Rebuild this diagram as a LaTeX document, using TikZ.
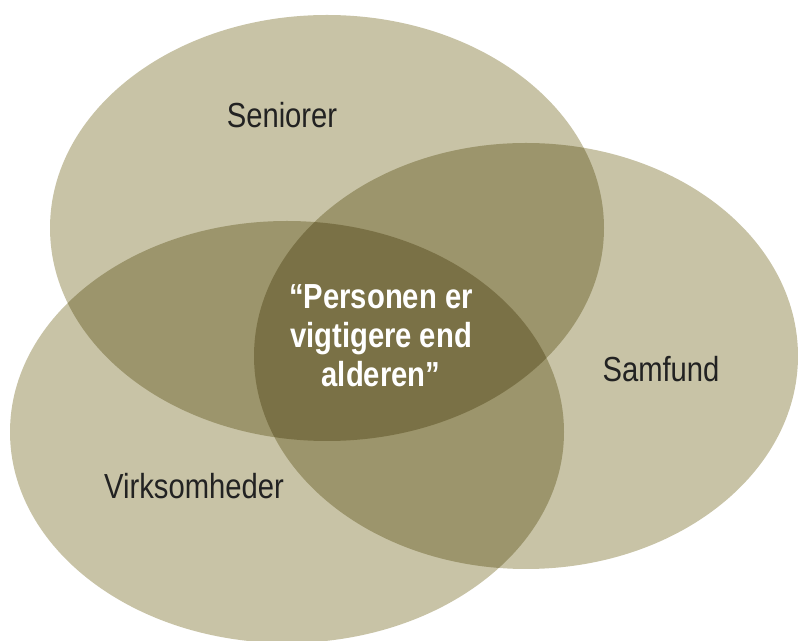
\documentclass[tikz,border=0pt]{standalone}
\usepackage{fontspec}
\setmainfont{Liberation Sans}[FakeStretch=0.84]
\usepackage{tikz}
\definecolor{sand}{HTML}{C8C3A6}
\definecolor{ink}{HTML}{222222}

\begin{document}
\begin{tikzpicture}[x=0.02cm, y=-0.02cm,
	circlefill/.style={fill=sand, blend mode=multiply},
	lbl/.style={text=ink, anchor=base, font=\fontsize{19.8}{22}\selectfont},
	core/.style={text=white, align=center, font=\fontsize{19.8}{22.1}\selectfont\bfseries}]
			%%%%% START %%%%%
			
			\useasboundingbox (0, 0) rectangle (798, 641);
			\clip (0, 0) rectangle (798, 641);
			
			% the three groups
			\fill[circlefill] (327, 228) ellipse [x radius=277, y radius=213];
			\fill[circlefill] (526, 356) ellipse [x radius=272, y radius=213];
			\fill[circlefill] (287, 432) ellipse [x radius=277, y radius=211];
			
			\node[lbl] (seniorer) at (282, 128) {Seniorer};
			\node[lbl] (samfund) at (661, 382) {Samfund};
			\node[lbl] (virksomheder) at (194, 499) {Virksomheder};
			
			% the common ground
			\node[core] (kerne) at (381, 336) {“Personen er\\vigtigere end\\alderen”};
			
			%%%%% END %%%%%
\end{tikzpicture}
\end{document}
